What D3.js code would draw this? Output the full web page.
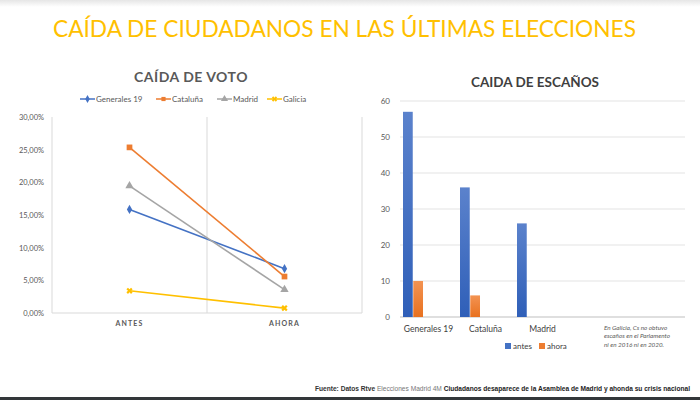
<!DOCTYPE html>
<html><head><meta charset="utf-8">
<script src="https://cdn.jsdelivr.net/npm/d3@7"></script>
<style>body{margin:0;background:#fff;}svg{display:block;font-family:Lato,'Open Sans',sans-serif;}</style>
</head><body>
<svg id="c" width="700" height="400"></svg>
<script>
// ---- data ----
const voteCategories = ["ANTES", "AHORA"];
const voteSeries = ["Generales 19", "Cataluña", "Madrid", "Galicia"];
const voteGenerales = [15.86, 6.79];
const voteCataluna = [25.35, 5.58];
const voteMadrid = [19.46, 3.57];
const voteGalicia = [3.4, 0.75];
const voteTicks = [0, 5, 10, 15, 20, 25, 30];

const seatCategories = ["Generales 19", "Cataluña", "Madrid", "", ""];
const seatSeries = ["antes", "ahora"];
const seatAntes = [57, 36, 26, null, null];
const seatAhora = [10, 6, null, null, null];
const seatTicks = [0, 10, 20, 30, 40, 50, 60];

const colors = {"Generales 19":"#4472C4","Cataluña":"#ED7D31","Madrid":"#A5A5A5","Galicia":"#FFC000"};
const seatColors = {antes:"#4472C4", ahora:"#ED7D31"};

const svg = d3.select("#c");
const defs = svg.append("defs");
const tg = defs.append("linearGradient").attr("id","topsh").attr("x1",0).attr("x2",0).attr("y1",0).attr("y2",1);
tg.append("stop").attr("offset",0).attr("stop-color","#e6e6e6");
tg.append("stop").attr("offset",1).attr("stop-color","#fff");
svg.append("rect").attr("width",700).attr("height",7).attr("fill","url(#topsh)");

const bg = defs.append("linearGradient").attr("id","gb").attr("x1",0).attr("x2",0).attr("y1",0).attr("y2",1);
bg.append("stop").attr("offset",0).attr("stop-color","#5b82cc");
bg.append("stop").attr("offset",1).attr("stop-color","#2f5fb8");
const og = defs.append("linearGradient").attr("id","go").attr("x1",0).attr("x2",0).attr("y1",0).attr("y2",1);
og.append("stop").attr("offset",0).attr("stop-color","#f39352");
og.append("stop").attr("offset",1).attr("stop-color","#e8711f");

// main title
svg.append("text").attr("x",53).attr("y",37).attr("fill","#FFC000")
  .style("font-size","22.7px").style("font-family","Lato, 'Open Sans', sans-serif")
  .text("CAÍDA DE CIUDADANOS EN LAS ÚLTIMAS ELECCIONES");

// ===== Left chart =====
const L = {x0:52, x1:362, y0:313, y1:117};
const xL = d3.scaleBand().domain(voteCategories).range([L.x0, L.x1]);
const yL = d3.scaleLinear().domain([0,30]).range([L.y0, L.y1]);
const gL = svg.append("g");
gL.append("text").attr("x",191).attr("y",82).attr("text-anchor","middle")
  .attr("fill","#595959").style("font-size","14px").style("font-weight","bold").style("letter-spacing","0.5px")
  .text("CAÍDA DE VOTO");

gL.selectAll(".yt").data(voteTicks).join("text")
  .attr("x",44).attr("y",d=>yL(d)+3).attr("text-anchor","end")
  .attr("fill","#595959").style("font-size","7.5px")
  .text(d=>d3.format(".2f")(d).replace(".",",")+"%");
const vlines = [L.x0, xL("AHORA"), L.x1];
gL.selectAll(".vl").data(vlines).join("line")
  .attr("x1",d=>d).attr("x2",d=>d).attr("y1",yL(30)).attr("y2",yL(0))
  .attr("stroke","#d9d9d9").attr("stroke-width",1);
gL.append("line").attr("x1",L.x0).attr("x2",L.x1).attr("y1",yL(0)).attr("y2",yL(0))
  .attr("stroke","#d9d9d9").attr("stroke-width",1.2);
gL.selectAll(".xt").data(voteCategories).join("text")
  .attr("x",d=>xL(d)+xL.bandwidth()/2).attr("y",326).attr("text-anchor","middle")
  .attr("fill","#595959").style("font-size","7px").style("font-weight","bold").style("letter-spacing","1.1px")
  .text(d=>d);

const voteData = [voteGenerales, voteCataluna, voteMadrid, voteGalicia];
const line = d3.line().x((d,i)=>xL(voteCategories[i])+xL.bandwidth()/2).y(d=>yL(d));
function marker(g, name, x, y, s) {
  const c = colors[name];
  if (name==="Generales 19") g.append("path").attr("d",d3.symbol(d3.symbolDiamond, s*8)()).attr("transform",`translate(${x},${y})`).attr("fill",c);
  else if (name==="Cataluña") g.append("rect").attr("x",x-s*0.95).attr("y",y-s*0.95).attr("width",s*1.9).attr("height",s*1.9).attr("fill",c);
  else if (name==="Madrid") g.append("path").attr("d",d3.symbol(d3.symbolTriangle, s*10)()).attr("transform",`translate(${x},${y})`).attr("fill",c);
  else g.append("path").attr("d",d3.symbol(d3.symbolCross, s*8)()).attr("transform",`translate(${x},${y}) rotate(45)`).attr("fill",c);
}
voteSeries.forEach((name,k)=>{
  gL.append("path").attr("d",line(voteData[k])).attr("fill","none")
    .attr("stroke",colors[name]).attr("stroke-width",1.6);
  voteData[k].forEach((v,i)=>marker(gL,name,xL(voteCategories[i])+xL.bandwidth()/2,yL(v),3));
});
const legX = [80, 156, 217, 267];
voteSeries.forEach((name,k)=>{
  const lx = legX[k];
  gL.append("line").attr("x1",lx).attr("x2",lx+15).attr("y1",99).attr("y2",99).attr("stroke",colors[name]).attr("stroke-width",1.5);
  marker(gL,name,lx+7.5,99,2.2);
  gL.append("text").attr("x",lx+16).attr("y",102).attr("fill","#595959").style("font-size","8px").text(name);
});

// ===== Right chart =====
const R = {x0:400, x1:685, y0:317, y1:101};
const xR = d3.scaleBand().domain(seatCategories.map((d,i)=>i)).range([R.x0, R.x1]);
const xR1 = d3.scaleBand().domain(seatSeries).range([3, 23]).paddingInner(0.05);
const yR = d3.scaleLinear().domain([0,60]).range([R.y0, R.y1]);
const gR = svg.append("g");
gR.append("text").attr("x",535).attr("y",87).attr("text-anchor","middle")
  .attr("fill","#404040").style("font-size","13.5px").style("font-weight","bold")
  .text("CAIDA DE ESCAÑOS");
gR.selectAll(".gl").data(seatTicks).join("line")
  .attr("x1",R.x0).attr("x2",R.x1).attr("y1",d=>yR(d)).attr("y2",d=>yR(d))
  .attr("stroke",d=>d===0?"#bfbfbf":"#e3e3e3").attr("stroke-width",1);
gR.selectAll(".yt").data(seatTicks).join("text")
  .attr("x",390).attr("y",d=>yR(d)+3).attr("text-anchor","end")
  .attr("fill","#595959").style("font-size","8px").text(d=>d);
const seatData = {antes:seatAntes, ahora:seatAhora};
seatSeries.forEach(s=>{
  gR.selectAll(".b"+s).data(seatData[s].map((v,i)=>({v,i})).filter(d=>d.v!=null)).join("rect")
    .attr("x",d=>xR(d.i)+xR1(s)).attr("width",xR1.bandwidth())
    .attr("y",d=>yR(d.v)).attr("height",d=>yR(0)-yR(d.v))
    .attr("fill",s==="antes"?"url(#gb)":"url(#go)");
});
gR.selectAll(".xt").data(seatCategories.map((d,i)=>({d,i})).filter(d=>d.d)).join("text")
  .attr("x",d=>xR(d.i)+xR.bandwidth()/2).attr("y",332).attr("text-anchor","middle")
  .attr("fill","#404040").style("font-size","8.5px").text(d=>d.d);
const note = ["En Galicia, Cs no obtuvo","escaños en el Parlamento","ni en 2016 ni en 2020."];
gR.selectAll(".nt").data(note).join("text")
  .attr("x",604).attr("y",(d,i)=>330+i*8.3).attr("fill","#595959")
  .style("font-size","6.3px").style("font-style","italic").text(d=>d);
const rlegX = [505, 539];
seatSeries.forEach((s,k)=>{
  gR.append("rect").attr("x",rlegX[k]).attr("y",343).attr("width",6).attr("height",6).attr("fill",seatColors[s]);
  gR.append("text").attr("x",rlegX[k]+8).attr("y",349).attr("fill","#404040").style("font-size","8px").text(s);
});

// source
const src = svg.append("text").attr("x",690).attr("y",391).attr("text-anchor","end")
  .style("font-size","6.6px").style("font-family","'Liberation Sans', Arial, sans-serif");
src.append("tspan").attr("fill","#333").style("font-weight","bold").text("Fuente: Datos Rtve ");
src.append("tspan").attr("fill","#777").text("Elecciones Madrid 4M ");
src.append("tspan").attr("fill","#222").style("font-weight","bold").text("Ciudadanos desaparece de la Asamblea de Madrid y ahonda su crisis nacional");
svg.append("rect").attr("x",0).attr("y",397).attr("width",700).attr("height",3).attr("fill","#33373a");
</script>
</body></html>
